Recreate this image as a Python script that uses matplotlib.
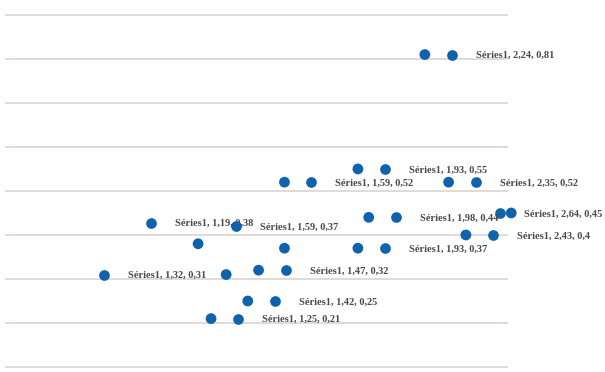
#!/usr/bin/env python3
"""Scatter of Séries1 with Excel-style data labels (legend key + text)."""
import matplotlib
matplotlib.use("Agg")
import matplotlib.pyplot as plt
import matplotlib.transforms as mtransforms
import numpy as np

SERIES = "Séries1"
X_VALS = [2.24, 1.93, 1.59, 2.35, 2.64, 1.98, 2.43, 1.19, 1.59, 1.93, 1.47, 1.32, 1.42, 1.25]
Y_VALS = [0.81, 0.55, 0.52, 0.52, 0.45, 0.44, 0.40, 0.38, 0.37, 0.37, 0.32, 0.31, 0.25, 0.21]

# label key offset from its point, in pixels (most labels sit to the right)
LABEL_OFFSETS = [(27, 0), (27, 0), (27, 0), (27, 0), (-11, 0), (27, 0), (27, 0),
                 (-47, 21), (-48, 22), (27, 0), (27, 0), (-122, 0), (27, 0), (27, 0)]

BLUE = "#0f63ad"
GRID = "#ddd8d6"


def fmt(v):
    return f"{v:g}".replace(".", ",")


fig = plt.figure(figsize=(6.05, 3.72), dpi=100)
ax = fig.add_axes([5 / 605, 0, 503 / 605, 1])
ax.set_xlim(0.296, 2.625)
ax.set_ylim(0.0886, 0.934)

for gy in np.arange(0.1, 0.95, 0.1):
    ax.axhline(gy, color=GRID, linewidth=1.3, zorder=0)

ax.scatter(X_VALS, Y_VALS, s=60, color=BLUE, edgecolors="none", zorder=3, clip_on=False)

for x, y, (dx, dy) in zip(X_VALS, Y_VALS, LABEL_OFFSETS):
    tr = mtransforms.offset_copy(ax.transData, fig=fig, x=dx, y=dy, units="dots")
    ax.plot([x], [y], "o", color=BLUE, markersize=7.7, markeredgewidth=0,
            transform=tr, clip_on=False, zorder=3)
    ax.annotate(f"{SERIES}, {fmt(x)}, {fmt(y)}", (x, y), xytext=(dx + 24, dy - 1),
                textcoords="offset pixels", ha="left", va="center",
                fontsize=7.5, family="Liberation Serif", fontweight="bold",
                color="#4a4a4a", annotation_clip=False)

ax.set_axis_off()
fig.savefig("out.png", dpi=100, facecolor="white")
